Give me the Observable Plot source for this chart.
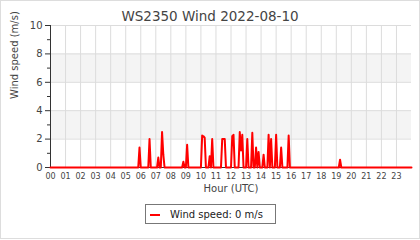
<!DOCTYPE html>
<html>
<head>
<meta charset="utf-8">
<script src="https://cdn.jsdelivr.net/npm/d3@7"></script>
<script src="https://cdn.jsdelivr.net/npm/@observablehq/plot@0.6"></script>
<style>
  html, body { margin: 0; padding: 0; background: #fff; }
  #chart svg { display: block; font-family: "DejaVu Sans", sans-serif; }
</style>
</head>
<body>
<div id="chart"></div>
<script>
const title = "WS2350 Wind 2022-08-10";
const xLabel = "Hour (UTC)";
const yLabel = "Wind speed (m/s)";
const legendLabel = "Wind speed: 0 m/s";

const hourTicks = d3.range(0, 24);
const yMajorTicks = [0, 2, 4, 6, 8, 10];
const yMinorTicks = [1, 3, 5, 7, 9];
const shadedBands = [[2, 4], [6, 8]];

const times = [
  "00:00","05:50","05:55","06:00","06:30","06:35","06:40","07:05","07:10","07:15",
  "07:20","07:25","07:30","07:35","08:45","08:50","08:55","09:00","09:05","09:10",
  "10:00","10:05","10:10","10:15","10:20","10:30","10:35","10:40","10:45","10:50",
  "11:20","11:25","11:30","11:35","11:40","12:00","12:05","12:10","12:15","12:30",
  "12:35","12:40","12:45","12:50","13:00","13:05","13:10","13:20","13:25","13:30",
  "13:35","13:40","13:45","13:50","13:55","14:05","14:10","14:15","14:25","14:30",
  "14:35","14:40","14:45","14:55","15:00","15:05","15:15","15:20","15:25","15:45",
  "15:50","15:55","19:10","19:15","19:20","24:00"
];
const speeds = [
  0, 0, 1.4, 0, 0, 2.0, 0, 0, 0.7, 0,
  0, 2.5, 0.9, 0, 0, 0.4, 0, 0, 1.6, 0,
  0, 2.25, 2.2, 2.1, 0, 0, 0.8, 0, 2.0, 0,
  0, 2.0, 2.0, 2.0, 0, 0, 2.2, 2.3, 0, 0,
  2.5, 1.2, 2.3, 0, 0, 2.0, 0, 0, 2.45, 0,
  0, 1.4, 0, 1.1, 0, 0, 0.9, 0, 0, 2.3,
  0, 2.0, 0, 0, 2.3, 0, 0, 1.4, 0, 0,
  2.25, 0, 0, 0.55, 0, 0
];

const toHour = t => { const [h, m] = t.split(":").map(Number); return h + m / 60; };
const data = times.map((t, i) => ({hour: toHour(t), speed: speeds[i]}));
const bands = shadedBands.map(([a, b]) => ({y1: a, y2: b}));
const txt = "#444";

const plot = Plot.plot({
  width: 420,
  height: 240,
  marginTop: 25,
  marginBottom: 73,
  marginLeft: 50,
  marginRight: 9,
  style: {fontFamily: "DejaVu Sans, sans-serif", background: "#fff", color: txt},
  x: {domain: [0, 24]},
  y: {domain: [0, 10]},
  marks: [
    Plot.rectY(bands, {x1: 0, x2: 24, y1: "y1", y2: "y2", fill: "#f4f4f4"}),
    Plot.gridX(hourTicks, {stroke: "#dcdcdc", strokeOpacity: 1}),
    Plot.gridY(yMajorTicks, {stroke: "#dcdcdc", strokeOpacity: 1}),
    Plot.axisY(yMajorTicks, {tickSize: 5, tickPadding: 3, fontSize: 10, stroke: "#333", fill: txt, label: null}),
    Plot.axisY(yMinorTicks, {tickSize: 3, text: null, stroke: "#333", label: null}),
    Plot.axisX(hourTicks, {tickSize: 0, tickPadding: 6, fontSize: 8, fill: txt, label: null,
      tickFormat: d => String(d).padStart(2, "0")}),
    Plot.ruleX([0], {stroke: "#333"}),
    Plot.ruleY([0], {stroke: "#333"}),
    Plot.lineY(data, {x: "hour", y: "speed", stroke: "#ff0000", strokeWidth: 2}),
    Plot.text([xLabel], {frameAnchor: "bottom", dy: 24, fontSize: 10, fill: txt}),
    Plot.text([yLabel], {frameAnchor: "left", rotate: -90, dx: -36, dy: 2.5, fontSize: 10, fill: txt}),
    Plot.text([title], {frameAnchor: "top", dx: -21, dy: -14, fontSize: 13.5, fill: txt})
  ]
});

const svg = d3.select(plot);
// outer frame
svg.insert("rect", ":first-child")
  .attr("x", 0.5).attr("y", 0.5).attr("width", 419).attr("height", 238)
  .attr("fill", "none").attr("stroke", "#dddddd");
// legend
const lg = svg.append("g").attr("text-anchor", "start");
lg.append("rect").attr("x", 145.5).attr("y", 204.5).attr("width", 130).attr("height", 19)
  .attr("fill", "#fff").attr("stroke", "#777");
lg.append("line").attr("x1", 150).attr("x2", 160).attr("y1", 215).attr("y2", 215)
  .attr("stroke", "#ff0000").attr("stroke-width", 2);
lg.append("text").attr("x", 170).attr("y", 214).attr("dy", "0.35em")
  .attr("text-anchor", "start")
  .attr("font-size", 10).attr("fill", "#222").text(legendLabel);

document.getElementById("chart").appendChild(plot);
</script>
</body>
</html>
